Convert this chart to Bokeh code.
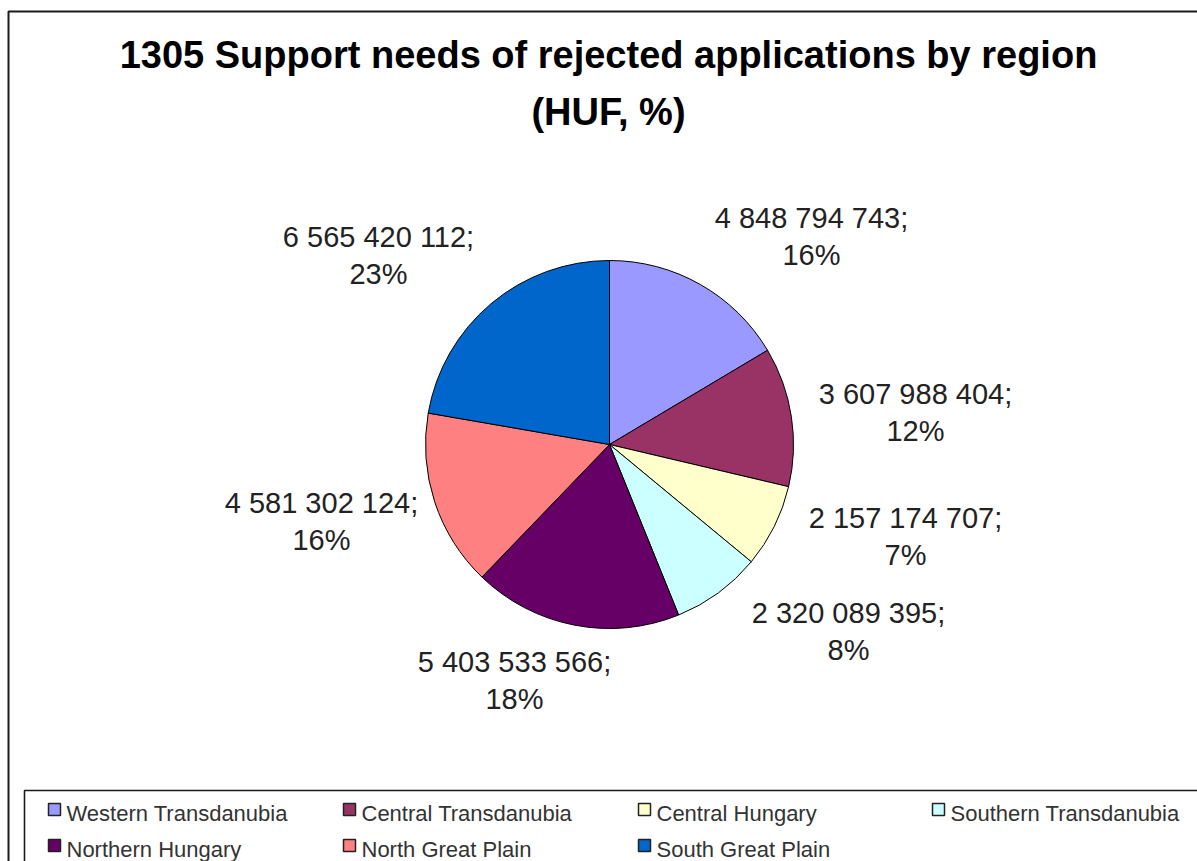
import numpy as np
from bokeh.plotting import figure
from bokeh.models import Range1d, ColumnDataSource
from bokeh.core.properties import value
from bokeh.embed import file_html
from bokeh.resources import INLINE

# ---- data -------------------------------------------------------------
regions = ["Western Transdanubia", "Central Transdanubia", "Central Hungary",
           "Southern Transdanubia", "Northern Hungary", "North Great Plain",
           "South Great Plain"]
support_huf = [4848794743, 3607988404, 2157174707, 2320089395,
               5403533566, 4581302124, 6565420112]
share_pct = [16, 12, 7, 8, 18, 16, 23]
colors = ["#9999FF", "#993366", "#FFFFCC", "#CCFFFF", "#660066", "#FF8080", "#0066CC"]
title_lines = ["1305 Support needs of rejected applications by region", "(HUF, %)"]

# ---- layout (pixel coordinates, y measured from the top) ---------------
W, H = 1197, 861
CX, CY, R = 609, 444, 184
label_pos = [(811, 236), (915, 412), (905, 536), (848, 631),
             (514, 680), (321, 521), (378, 255)]
legend_cols = [48, 343, 638, 932]
legend_rows = [813, 849]
FONT = "Liberation Sans"


def sy(y):
    return H - y


p = figure(width=W, height=H, x_range=Range1d(0, W), y_range=Range1d(0, H),
           output_backend="svg", toolbar_location=None, min_border=0,
           x_axis_type=None, y_axis_type=None)
p.grid.visible = False
p.outline_line_color = None
p.background_fill_color = "white"
p.border_fill_color = "white"

# outer chart frame and legend frame (run past the page's right/bottom edge)
p.quad(left=[8], right=[W + 60], top=[sy(11)], bottom=[-60],
       fill_color=None, line_color="#1a1a1a", line_width=2)
p.quad(left=[24], right=[W + 60], top=[sy(790)], bottom=[-60],
       fill_color=None, line_color="#1a1a1a", line_width=1.6)

# pie: clockwise from 12 o'clock
vals = np.array(support_huf, dtype=float)
cum = np.concatenate([[0.0], np.cumsum(vals / vals.sum())])
start = np.pi / 2 - 2 * np.pi * cum[:-1]
end = np.pi / 2 - 2 * np.pi * cum[1:]
pie_src = ColumnDataSource(dict(start=start, end=end, color=colors, region=regions))
p.wedge(x=CX, y=sy(CY), radius=R, start_angle="start", end_angle="end",
        direction="clock", fill_color="color", line_color="black",
        line_width=1, source=pie_src)

# data labels
texts = [f"{v:,}".replace(",", " ") + f";\n{pc}%" for v, pc in zip(support_huf, share_pct)]
lab_src = ColumnDataSource(dict(x=[q[0] for q in label_pos],
                                y=[sy(q[1]) for q in label_pos], text=texts))
p.text(x="x", y="y", text="text", source=lab_src, text_align="center",
       text_baseline="middle", text_font=value(FONT), text_font_size="29px",
       text_color="#222222", text_line_height=1.15)

# title
p.text(x=[608], y=[sy(83)], text=["\n".join(title_lines)], text_align="center",
       text_baseline="middle", text_font=value(FONT), text_font_size="38px",
       text_font_style="bold", text_color="black", text_line_height=1.35)

# legend
sw_x, sw_y, lg_x, lg_y = [], [], [], []
for i, name in enumerate(regions):
    r, c = divmod(i, 4)
    sw_x.append(legend_cols[c] + 6)
    sw_y.append(sy(legend_rows[r] - 4))
    lg_x.append(legend_cols[c] + 18)
    lg_y.append(sy(legend_rows[r]))
p.rect(x=sw_x, y=sw_y, width=12, height=12, fill_color=colors,
       line_color="#222222", line_width=1.5)
p.text(x=lg_x, y=lg_y, text=regions, text_align="left", text_baseline="middle",
       text_font=value(FONT), text_font_size="22px", text_color="#333333")

open("out.html", "w").write(file_html(p, INLINE))
